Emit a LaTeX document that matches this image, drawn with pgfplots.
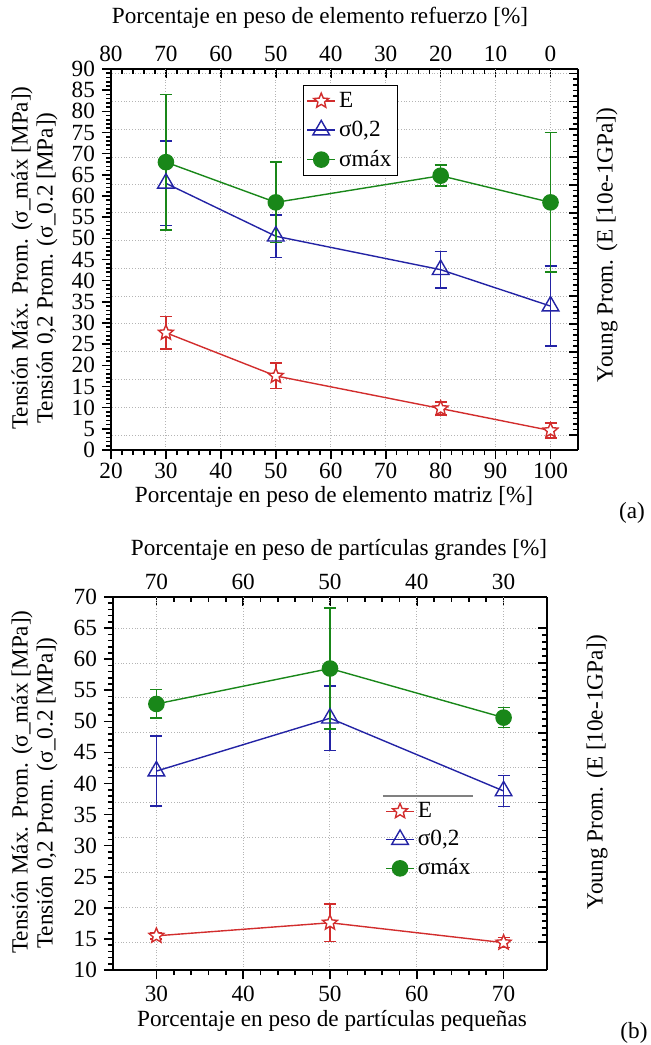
\documentclass[border=0pt]{standalone}
\usepackage{fontspec}
\setmainfont{Liberation Serif}
\usepackage{pgfplots}
\pgfplotsset{compat=1.18}

\definecolor{cE}{RGB}{210,45,45}
\definecolor{cS}{RGB}{35,35,165}
\definecolor{cM}{RGB}{25,135,25}
\definecolor{gridc}{RGB}{180,180,180}

% open five-point star
\pgfdeclareplotmark{ostar}{%
  \pgfpathmoveto{\pgfpointpolar{90}{\pgfplotmarksize}}%
  \pgfpathlineto{\pgfpointpolar{126}{0.45\pgfplotmarksize}}%
  \pgfpathlineto{\pgfpointpolar{162}{\pgfplotmarksize}}%
  \pgfpathlineto{\pgfpointpolar{198}{0.45\pgfplotmarksize}}%
  \pgfpathlineto{\pgfpointpolar{234}{\pgfplotmarksize}}%
  \pgfpathlineto{\pgfpointpolar{270}{0.45\pgfplotmarksize}}%
  \pgfpathlineto{\pgfpointpolar{306}{\pgfplotmarksize}}%
  \pgfpathlineto{\pgfpointpolar{342}{0.45\pgfplotmarksize}}%
  \pgfpathlineto{\pgfpointpolar{18}{\pgfplotmarksize}}%
  \pgfpathlineto{\pgfpointpolar{54}{0.45\pgfplotmarksize}}%
  \pgfpathclose
  \pgfusepathqfillstroke}

\newcommand{\fs}{\fontsize{11.6}{14}\selectfont}

\pgfplotsset{
  base/.style={
    scale only axis, anchor=south west,
    axis line style={line width=0.9pt},
    every tick/.style={black, line width=0.8pt},
    major tick length=4.5pt, minor tick length=2.5pt,
    ticklabel style={font=\fs},
    /pgf/number format/assume math mode=true,
    major grid style={gridc, densely dotted, line width=0.5pt},
    minor x tick num=4, minor y tick num=4,
    clip=false,
  },
  ebar/.style={error bars/.cd, y dir=both, y explicit,
    error bar style={line width=0.8pt},
    error mark options={rotate=90, mark size=3pt, line width=0.8pt}},
  serE/.style={color=cE, line width=0.7pt, mark=ostar, mark size=3.9pt,
    mark options={fill=white, solid}, ebar},
  serS/.style={color=cS, line width=0.7pt, mark=triangle, mark size=4.8pt,
    mark options={fill=white, solid}, ebar},
  serM/.style={color=cM, line width=0.7pt, mark=*, mark size=3.8pt,
    mark options={fill=cM, solid}, ebar},
  leg/.style={legend cell align=left, legend image code/.code={%
    \draw[mark repeat=2, mark phase=2] plot coordinates {(0pt,0pt)(7pt,0pt)(14pt,0pt)};}},
}

\begin{document}
\begin{tikzpicture}[x=0.5pt, y=-0.5pt, font=\fs]
\useasboundingbox (0,0) rectangle (650,1045);
\coordinate (PA) at (111,450);
\coordinate (PB) at (113,970);

% ---------------- (a) ----------------
\begin{axis}[base, at={(PA)}, width=233.5pt, height=190.5pt,
  x dir=reverse, xmin=-5, xmax=80, ymin=0, ymax=90,
  axis x line*=top, axis y line*=right, tick align=inside,
  xtick={0,10,...,80},
  ytick={3.5,10.07,...,89}, yticklabels={},
  ymajorgrids,
]
\end{axis}

\begin{axis}[base, leg, at={(PA)}, width=233.5pt, height=190.5pt,
  xmin=20, xmax=105, ymin=0, ymax=90,
  axis x line*=bottom, axis y line*=left, tick align=outside,
  xtick={20,30,...,100}, ytick={0,5,...,90},
  xticklabel style={yshift=1.5pt},
  xmajorgrids,
  legend style={at={(0.411,0.958)}, anchor=north west, draw=black,
    line width=0.6pt, fill=white, font=\fs, row sep=2.2pt, inner sep=1.5pt,
    nodes={inner sep=1.6pt}},
]
\addplot+[serE] coordinates {
  (30,27.7) +- (0,3.8)
  (50,17.5) +- (0,3.0)
  (80,9.8)  +- (0,1.5)
  (100,4.6) +- (0,1.8)
};
\addlegendentry{E}
\addplot+[serS] coordinates {
  (30,63.0) +- (0,10.0)
  (50,50.5) +- (0,5.0)
  (80,42.6) +- (0,4.3)
  (100,34.0) +- (0,9.4)
};
\addlegendentry{σ0,2}
\addplot+[serM] coordinates {
  (30,68.0) +- (0,16.0)
  (50,58.5) +- (0,9.5)
  (80,64.8) +- (0,2.5)
  (100,58.5) +- (0,16.5)
};
\addlegendentry{σmáx}
\end{axis}

\node at (320,18) {Porcentaje en peso de elemento refuerzo [\%]};
\node at (334,497) {Porcentaje en peso de elemento matriz [\%]};
\node at (632,513) {(a)};
\node[rotate=90] at (22,258) {Tensión Máx. Prom. (σ\_máx [MPa])};
\node[rotate=90] at (47,268) {Tensión 0,2 Prom. (σ\_0.2 [MPa])};
\node[rotate=90] at (607,245) {Young Prom. (E [10e-1GPa])};

% ---------------- (b) ----------------
\begin{axis}[base, at={(PB)}, width=217pt, height=186.5pt,
  x dir=reverse, xmin=25, xmax=75, ymin=10, ymax=70,
  axis x line*=top, axis y line*=right, tick align=inside,
  xtick={30,40,...,70},
  ytick={14.5,20.11,...,66}, yticklabels={},
  ymajorgrids,
]
\end{axis}

\begin{axis}[base, leg, at={(PB)}, width=217pt, height=186.5pt,
  xmin=25, xmax=75, ymin=10, ymax=70,
  axis x line*=bottom, axis y line*=left, tick align=outside,
  xtick={30,40,...,70}, ytick={10,15,...,70},
  xmajorgrids,
  legend style={at={(0.622,0.465)}, anchor=north west, draw=none,
    fill=none, font=\fs, row sep=1.8pt, inner sep=1pt,
    nodes={inner sep=1.6pt}},
]
\draw[gray, line width=0.9pt] (axis cs:56.1,38.0) -- (axis cs:66.5,38.0);
\addplot+[serE] coordinates {
  (30,15.5) +- (0,0.5)
  (50,17.6) +- (0,3.0)
  (70,14.4) +- (0,0.8)
};
\addlegendentry{E}
\addplot+[serS] coordinates {
  (30,42.0) +- (0,5.6)
  (50,50.5) +- (0,5.2)
  (70,38.8) +- (0,2.5)
};
\addlegendentry{σ0,2}
\addplot+[serM] coordinates {
  (30,52.8) +- (0,2.3)
  (50,58.5) +- (0,9.7)
  (70,50.6) +- (0,1.6)
};
\addlegendentry{σmáx}
\end{axis}

\node at (339,550) {Porcentaje en peso de partículas grandes [\%]};
\node at (332,1021) {Porcentaje en peso de partículas pequeñas};
\node at (634,1033) {(b)};
\node[rotate=90] at (22,782) {Tensión Máx. Prom. (σ\_máx [MPa])};
\node[rotate=90] at (47,793) {Tensión 0,2 Prom. (σ\_0.2 [MPa])};
\node[rotate=90] at (597,772) {Young Prom. (E [10e-1GPa])};
\end{tikzpicture}
\end{document}
